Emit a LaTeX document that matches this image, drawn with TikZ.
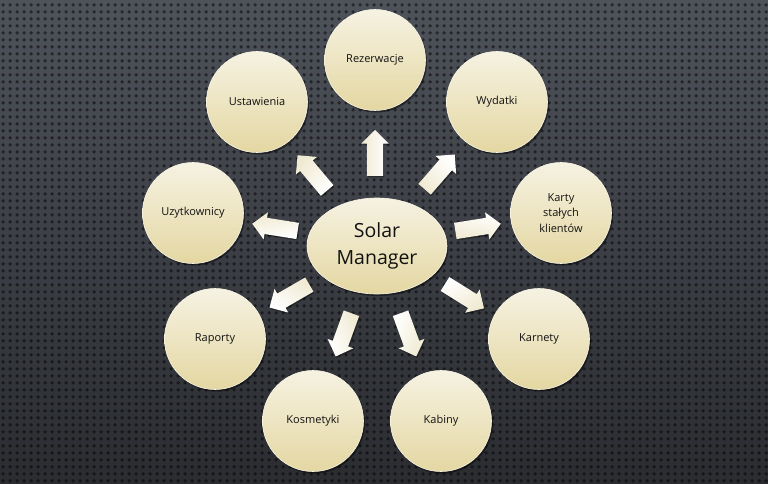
\documentclass[tikz,border=0pt]{standalone}
\usepackage{fontspec}
\setmainfont{Open Sans}
\usetikzlibrary{shapes.geometric,shapes.arrows,shadows,patterns.meta}
\definecolor{bgtop}{HTML}{4E525A}
\definecolor{bgbot}{HTML}{2A2C30}
\definecolor{ctop}{HTML}{F6F2E2}
\definecolor{cbot}{HTML}{E4D7A2}
\definecolor{crim}{HTML}{FAF6E6}
\definecolor{atop}{HTML}{FFFFFF}
\definecolor{abot}{HTML}{F0EAD2}
\definecolor{txt}{HTML}{111111}
\pgfdeclarepattern{name=cdots, type=uncolored,
  bottom left={\pgfpoint{0pt}{0pt}}, top right={\pgfpoint{6.6pt}{6.6pt}},
  tile size={\pgfpoint{6.6pt}{6.6pt}},
  code={\pgfpathcircle{\pgfpoint{3.3pt}{3.3pt}}{1.9pt}\pgfusepath{fill}}}
\tikzset{
  leaf/.style={circle, minimum size=101pt, inner sep=0pt, top color=ctop, bottom color=cbot,
    draw=crim, line width=0.6pt, text=txt, align=center,
    font=\fontsize{11}{15.5}\selectfont,
    drop shadow={shadow xshift=1.5pt, shadow yshift=-2pt, opacity=0.45, fill=black}},
  hub/.style={ellipse, minimum width=140pt, minimum height=96pt, inner sep=0pt,
    top color=ctop, bottom color=cbot, draw=crim, line width=0.6pt, text=txt, align=center,
    font=\fontsize{19.5}{27}\selectfont,
    drop shadow={shadow xshift=1.5pt, shadow yshift=-2pt, opacity=0.45, fill=black}},
  blockarrow/.style={single arrow, minimum height=46pt, inner xsep=0pt, inner ysep=8pt,
    single arrow head extend=5.5pt, single arrow head indent=0pt,
    top color=atop, bottom color=abot, draw=none,
    rotate=#1, shading angle=-#1,
    drop shadow={shadow xshift=1pt, shadow yshift=-1.5pt, opacity=0.35, fill=black}}
}
\begin{document}
\begin{tikzpicture}[x=1pt,y=-1pt]
\useasboundingbox (0,0) rectangle (768,484);
\shade[top color=bgtop, bottom color=bgbot] (0,0) rectangle (768,484);
\fill[pattern=cdots, pattern color=black, opacity=0.5] (0,0) rectangle (768,484);

\node[hub] (hub) at (377,246) {Solar\\Manager};

\node[leaf] (rez) at (375,60) {Rezerwacje};
\node[leaf] (wyd) at (497,102) {Wydatki};
\node[leaf] (kar) at (561,213) {Karty\\stałych\\klientów};
\node[leaf] (krn) at (539,339) {Karnety};
\node[leaf] (kab) at (441,421) {Kabiny};
\node[leaf] (kos) at (313,421) {Kosmetyki};
\node[leaf] (rap) at (215,339) {Raporty};
\node[leaf] (uzy) at (193,213) {Uzytkownicy};
\node[leaf] (ust) at (257,102) {Ustawienia};

\node[blockarrow=90] (a1) at (375,157) {};
\node[blockarrow=49] (a2) at (437,175) {};
\node[blockarrow=9] (a3) at (474,228) {};
\node[blockarrow=-32] (a4) at (461,294) {};
\node[blockarrow=-70] (a5) at (407,331) {};
\node[blockarrow=-110] (a6) at (345,331) {};
\node[blockarrow=210] (a7) at (293,294) {};
\node[blockarrow=171] (a8) at (279,228) {};
\node[blockarrow=130] (a9) at (315,176) {};
\end{tikzpicture}
\end{document}
